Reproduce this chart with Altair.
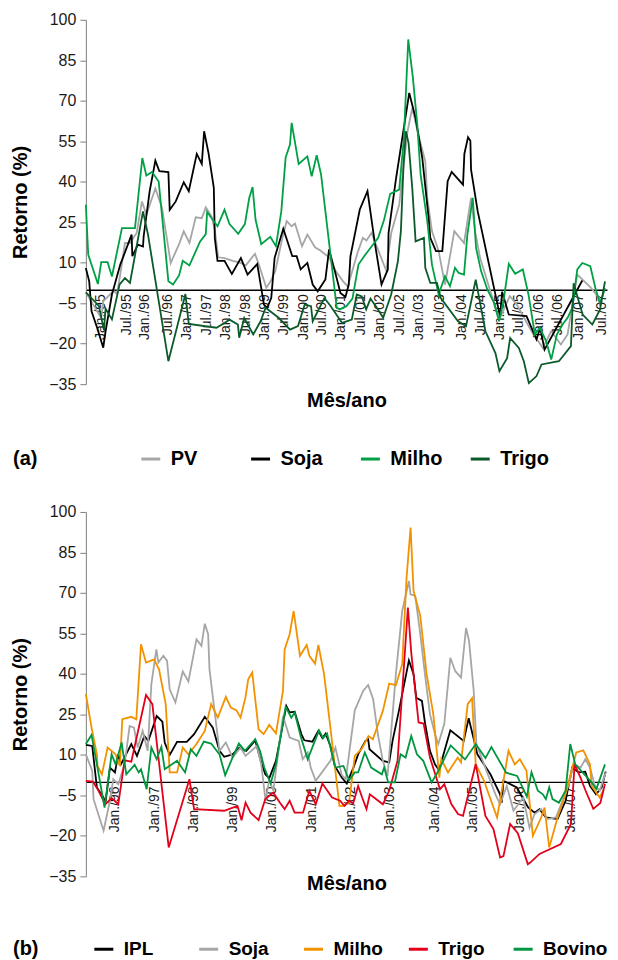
import altair as alt
import pandas as pd

FONT = "Liberation Sans"

# ---------------- Panel (a) ----------------
# (period index, return %)
a_pv = [(0, -1), (2.4, -6), (4.6, -10.5), (5.2, -4.3), (8.3, -0.4), (9.3, -1.6), (10.3, 5.6), (11.7, 17.3),
        (13.2, 17.3), (15.2, 21), (16.8, 32.7), (18.1, 27.8), (20.8, 37.5), (22.8, 30.3), (25.4, 9.9),
        (27.9, 16.9), (29.3, 21.6), (31.0, 17.3), (32.9, 26.8), (34.7, 26.5), (35.9, 30.5), (37.6, 27.2),
        (38.6, 22.2), (39.6, 12), (41.5, 11.7), (44.0, 10.7), (45.9, 10.1), (47.9, 9), (50.6, 13.3),
        (51.8, 9.3), (54.0, 0.7), (55.2, 2.9), (56.7, 6.9), (58.6, 17.9), (60.1, 25.4), (61.6, 23.5),
        (62.6, 24.5), (64.7, 16.1), (66.3, 20.4), (68.6, 15.7), (70.2, 14.5), (72.8, 12), (74.8, 6.9),
        (77.0, 3.1), (78.4, 1.2), (81.3, 13.6), (82.9, 19.2), (84.0, 18.2), (85.5, 21), (89.9, 7.1),
        (91.4, 21), (93.8, 31.5), (96.3, 58.7), (97.7, 67.3), (99.5, 57.5), (101.6, 47.6), (102.2, 34),
        (103.6, 21.7), (105.6, 14.3), (107.5, 1.9), (110.3, 21.7), (113.2, 17.3), (115.3, 34),
        (116.5, 21.7), (118.0, 11.8), (123.7, -11.1), (126.9, -2.4), (129.0, -5.5), (133.4, -15.4),
        (136.8, -21.6), (139.3, -15.4), (142.2, -20.3), (144.2, -16.6), (147.1, 5.6), (151.0, 1),
        (154.5, -4.5)]

a_soja = [(0, 8), (1, 3.1), (1.7, -8), (3.4, -14.2), (5.2, -21.5), (5.9, -15.4), (7.8, -1.8), (10.3, 9.3),
          (13.7, 20.4), (13.9, 12.4), (15.6, 16.7), (17.1, 16), (17.3, 19.8), (19.1, 36.5), (20.8, 47.8),
          (22.0, 43.9), (24.7, 43.6), (25.1, 29.6), (26.9, 32.7), (29.3, 39.8), (30.8, 36.5), (33.2, 50.3),
          (34.7, 46.6), (35.4, 58.7), (36.7, 50.7), (38.3, 37.7), (38.6, 19.1), (39.4, 10.7), (41.5, 10.7),
          (43.7, 5.8), (46.4, 11.7), (48.4, 5.6), (51.3, 9.5), (52.5, 0.6), (53.3, -5.5), (54.3, -6.7),
          (55.5, -3), (56.5, 11.8), (59.1, 22.6), (61.8, 12.4), (63.1, 12.4), (64.3, 7.5), (66.3, 9.9),
          (67.9, 1.9), (69.4, -0.6), (71.7, 3.8), (72.8, 14.9), (74.8, 5.6), (76.2, -1.2), (77.7, -2.7),
          (78.7, 1.9), (79.2, 12.4), (82.0, 29.7), (84.3, 36.5), (86.5, 17.3), (88.5, 1.9), (90.4, 7.5),
          (90.6, 21), (92.8, 40.8), (96.8, 72.9), (98.7, 63.6), (100.7, 48.8), (102.6, 26.6), (103.1, 19.2),
          (104.8, 14.3), (106.7, 14.3), (108.3, 40.2), (109.5, 43.6), (112.9, 38.9), (113.3, 50.3),
          (114.4, 56.5), (115.1, 55.2), (115.3, 44.5), (117.3, 29), (124.0, -10), (124.6, -0.8),
          (126.6, -9.2), (131.9, -9.8), (134.9, -18.4), (136.0, -14.1), (137.3, -22.2), (148.6, 3.4)]

a_milho = [(0, 31.5), (0.7, 13), (3.6, 2.1), (4.6, 10.2), (6.5, 10.2), (7.8, 4.9), (10.8, 22.8), (14.7, 22.8),
           (16.9, 48.8), (18.1, 42.3), (19.8, 43.6), (21.8, 40.1), (24.7, 3.1), (26.1, 1.9), (27.9, 5.3),
           (29.0, 10.7), (31.0, 9), (34.2, 17.9), (35.9, 20.6), (36.3, 28.8), (39.4, 23.5), (41.5, 29.6),
           (43.0, 24.3), (45.6, 20.7), (47.6, 24.3), (48.9, 34), (49.9, 38), (50.8, 25.9), (52.5, 16.9),
           (55.2, 19.6), (56.9, 16.1), (58.5, 29), (59.8, 49), (61.1, 53.8), (61.6, 61.8), (63.7, 46.6),
           (66.3, 49.4), (67.6, 42), (69.1, 49.8), (70.4, 42.7), (75.1, -6.7), (76.0, -7.3), (78.0, -6.1),
           (79.8, -3.3), (81.6, 9.3), (83.3, 12.4), (87.5, 19.2), (89.2, 25.6), (91.1, 35.5), (93.8, 37.1),
           (95.2, 56.2), (96.5, 92.7), (97.9, 78.5), (99.2, 61.2), (100.2, 42.6), (102.2, 25.4), (103.6, 9.3),
           (105.6, -1.8), (107.5, 5), (109.0, 1.3), (110.5, 8.1), (111.6, 6.2), (113.2, 5.6), (114.2, 20.4),
           (115.8, 34), (116.8, 15.5), (118.3, 6.9), (120.2, 0), (122.2, -4.9), (123.7, -11.7), (125.1, -3.6),
           (126.6, 9.6), (128.5, 5.9), (130.8, 7.5), (132.5, -1.8), (134.4, -16.6), (135.9, -14.1),
           (137.8, -19.1), (139.3, -25.9), (141.0, -16.6), (142.7, -12.9), (144.2, -10.4), (145.6, -6.7),
           (147.1, 7.5), (148.6, 9.9), (151.0, 8.7), (152.5, 0.7), (153.9, -5.2), (155.4, 0.5)]

a_trigo = [(0, -1), (3.9, -6), (5.4, -15), (5.9, -7), (7.8, -11), (10.1, 2), (11.7, 4.3), (13.2, 2.5),
           (17.1, 29), (18.6, 20.4), (24.7, -26.5), (29.8, -1.6), (30.8, -12.7), (39.1, -14.1), (41.5, -12.3),
           (43.0, -11.1), (45.5, -12.9), (45.9, -17.8), (47.4, -10.5), (50.1, -16.6), (52.3, -11.7),
           (53.8, -6.7), (57.7, -10.4), (61.1, -14.8), (63.5, -13.5), (65.5, -5.5), (67.4, -6.1),
           (67.9, -11.7), (71.4, -3.1), (73.3, -6.1), (76.7, -12.3), (79.6, -11.1), (81.1, -1.8),
           (82.6, -2.5), (83.9, -7.3), (85.2, -3.3), (86.8, -6.1), (89.0, -10.4), (91.4, -1.8), (93.4, 10.5),
           (94.3, 21.7), (95.1, 46.4), (95.8, 58.7), (96.6, 54.3), (97.7, 37.7), (98.7, 17.9), (101.2, 19.2),
           (101.6, 8.1), (103.1, 2.5), (105.1, 2.5), (106.2, -3), (111.4, -11.7), (113.8, -13.5),
           (116.7, 3.7), (119.6, -15.4), (122.6, -23.5), (123.8, -30.2), (126.1, -25.4), (127.0, -17.9),
           (129.6, -21.6), (131.1, -26.5), (132.6, -34.6), (134.9, -32), (136.4, -27.7), (141.6, -26.5),
           (145.2, -20.9), (146.0, 2.4), (148.7, -9.2), (151.6, -12.9), (153.9, -7.4), (155.4, 3.1)]

a_names = ["PV", "Soja", "Milho", "Trigo"]
a_colors = ["#a6a6a6", "#000000", "#00a046", "#0b5a2a"]
a_series = [a_pv, a_soja, a_milho, a_trigo]

a_tick_pos = [4.4, 12.3, 17.6, 24.3, 30.2, 36.1, 41.9, 47.8, 53.4, 59.2, 65.1, 70.4, 76.2, 82.1, 88.0,
              93.8, 99.7, 105.9, 112.3, 118.2, 123.8, 129.6, 135.5, 141.3, 147.5, 154.3]
a_tick_lab = ["Jan./95", "Jul./95", "Jan./96", "Jul./96", "Jan./97", "Jul./97", "Jan./98", "Jul./98",
              "Jan./99", "Jul./99", "Jan./00", "Jul./00", "Jan./01", "Jul./01", "Jan./02", "Jul./02",
              "Jan./03", "Jul./03", "Jan./04", "Jul./04", "Jan./05", "Jul./05", "Jan./06", "Jul./06",
              "Jan./07", "Jul./07"]

# ---------------- Panel (b) ----------------
b_ipl = [(0, 13.7), (1.9, 13.3), (3.3, -2.1), (5.3, -5.8), (5.8, -8.3), (7.2, 5.3), (8.7, 3.5), (9.7, 10.2),
         (10.5, 6.5), (13.6, 14), (15.3, 9.6), (17.5, 17), (18.7, 15.2), (21.2, 24.4), (22.9, 22.3),
         (23.6, 14.6), (25.1, 10), (27.3, 14.8), (30.2, 14.8), (32.4, 17.7), (35.6, 24.1), (38.0, 20.1),
         (40.0, 11.5), (41.4, 9.3), (43.9, 10.2), (46.0, 12.7), (48.0, 11.5), (50.7, 15.4), (52.2, 8.5),
         (53.7, 2.8), (54.9, 1.4), (56.9, 7.8), (60.0, 28.1), (61.0, 25.7), (62.5, 26), (64.5, 17.7),
         (65.4, 15.4), (67.8, 14.9), (69.6, 18.9), (70.8, 16.2), (71.8, 17.9), (73.2, 13.3), (74.5, 5.9),
         (76.6, 1.6), (78.1, -0.6), (80.1, 5.3), (81.5, 10.2), (83.7, 15.2), (84.5, 15.8), (84.9, 12.1),
         (88.9, 7.8), (90.8, 7.2), (91.8, 15.2), (93.7, 26.3), (96.7, 45), (98.1, 39.9), (98.9, 31.2),
         (100.6, 30), (101.5, 22), (103.0, 11.5), (104.5, 6.5), (105.7, 4.3), (109.1, 19.1), (113.1, 15.2),
         (114.6, 23.6), (117.2, 10.2), (121.1, 2.8), (124.0, -4.6), (124.5, -7.7), (125.0, 0.4),
         (129.0, -2.1), (132.4, -9.5), (134.3, -11.4), (135.8, -10.1), (137.7, -13.2), (141.2, -13.8),
         (143.6, -7), (145.6, 5.3), (147.5, 3.5), (149.5, 3.8), (150.9, -1.5), (152.7, -4.6), (154.4, -2.1),
         (155.6, 3.8)]

b_soja = [(0, 10.2), (1.9, 4.1), (2.3, -6.4), (5.3, -18.1), (7.2, -7), (8.2, 1), (9.7, -0.9), (11.6, 6.5),
          (13.1, 20.7), (14.4, 20.1), (15.5, 12.7), (17.0, 18.9), (18.5, 11.5), (19.6, 36.2), (21.1, 49.1),
          (21.7, 44.2), (23.2, 46.7), (24.3, 44.8), (25.1, 34.3), (26.8, 29.4), (29.0, 40.9), (30.7, 37.2),
          (33.1, 52.8), (34.6, 50.4), (35.6, 58.6), (36.6, 54.7), (37.0, 41.7), (39.0, 21.4), (40.0, 11.5),
          (41.9, 14.6), (43.9, 9), (46.3, 12.7), (47.8, 9.6), (51.2, 13.3), (52.5, 6.5), (53.8, -7),
          (54.9, 1), (56.1, -3.3), (59.0, 24.4), (61.0, 16.4), (63.7, 15.2), (64.9, 8.4), (66.4, 10.9),
          (67.3, 5.3), (68.8, 0.4), (73.2, 7.8), (74.7, 12.7), (76.6, 2.5), (77.8, 1), (80.5, 26.5),
          (83.0, 33.7), (84.5, 35.9), (86.0, 30.6), (87.4, 17.7), (88.9, 7.8), (90.3, 2.2), (92.8, 39.9),
          (94.7, 63.3), (96.7, 74.4), (97.2, 69.5), (98.6, 68.9), (100.1, 54.7), (101.5, 39.9), (103.0, 25.1),
          (104.5, 17.7), (105.5, 14), (107.3, 21.5), (109.1, 46), (110.6, 41), (112.3, 38.6), (113.8, 57),
          (114.7, 52.2), (116.1, 33.7), (116.9, 14), (122.6, -4.6), (124.0, -8.3), (126.0, -1.5),
          (128.0, -10.7), (130.9, -5.8), (132.8, -16.9), (134.3, -12), (136.3, -10.1), (138.2, -13.8),
          (140.7, -13.2), (144.6, -0.9), (146.0, 6.5), (148.1, 5.3), (149.5, 8.4), (150.9, 5.3),
          (152.4, -1.5), (153.8, -3.3), (155.6, 3.5)]

b_milho = [(0, 32.5), (1.7, 20.1), (3.3, 10.2), (3.5, 5.9), (4.8, 2.8), (6.5, 12.7), (8.9, 10.2), (10.2, 5.9),
           (10.9, 23.2), (13.6, 24.1), (15.1, 23.2), (16.5, 51), (18.0, 44.2), (20.4, 45.4), (21.9, 41.7),
           (23.9, 28.8), (25.1, 3.5), (27.3, 3.5), (29.0, 12.7), (30.7, 10.2), (33.1, 14), (35.6, 18.9),
           (37.5, 28.8), (39.5, 23.8), (41.9, 31.5), (43.4, 27.5), (45.1, 26.5), (46.3, 23.8), (47.8, 31.5),
           (48.6, 38), (49.8, 40.5), (51.7, 19.5), (53.2, 17.7), (54.9, 21.1), (56.9, 18), (59.0, 33.7),
           (59.5, 49.1), (61.0, 54.7), (62.2, 63.3), (64.1, 46.7), (66.1, 50.7), (66.9, 46.7), (68.6, 43.8),
           (69.6, 50.7), (71.3, 39.9), (73.2, 20.1), (75.9, -8.9), (77.1, -8.9), (78.8, -7.7), (80.5, 9.6),
           (82.5, 12.1), (84.6, 17), (85.9, 15.8), (88.9, 26.3), (90.8, 36.4), (92.8, 35.8), (94.7, 43.6),
           (96.0, 75.7), (97.2, 94.2), (98.1, 70.7), (100.1, 61.5), (102.0, 39.9), (104.0, 25.1), (105.8, 1.6),
           (106.4, 8.4), (108.4, 3.5), (111.3, 9), (112.3, 7.2), (114.3, 28.8), (115.6, 31), (116.7, 6.5),
           (119.2, 0.4), (120.6, -4.6), (123.1, -13.2), (125.0, 0.4), (126.5, 11.5), (128.4, 6.5),
           (129.9, 8.4), (131.9, 4.1), (133.8, -20), (136.3, -13.2), (137.3, -9.5), (138.7, -24.3),
           (141.2, -13.2), (143.6, -4.6), (145.6, 5.3), (146.8, 10.9), (148.9, 11.7), (150.9, 6.5),
           (151.4, -1.5), (153.8, -5.8), (155.0, -3)]

b_trigo = [(0, 0.4), (2.1, 0.1), (3.8, -3.3), (5.8, -8.3), (7.7, -6), (9.7, -8.3), (11.6, 8), (13.6, 7.5),
           (18.0, 32.2), (19.9, 28.8), (24.8, -24.3), (31.0, 1), (32.4, -10.1), (41.4, -10.7), (45.4, -8.9),
           (46.6, -14.2), (47.8, -7.7), (49.3, -11.4), (51.7, -14.2), (53.7, -6.4), (56.1, -4), (58.1, -7.7),
           (59.5, -10.1), (61.0, -7), (62.5, -11.4), (65.0, -11.4), (66.9, -3.3), (68.8, -8.3), (70.8, -0.6),
           (73.7, -5.8), (76.1, -7), (77.4, -8.9), (78.8, -7), (80.0, -8), (81.5, -1.5), (82.7, -5.8),
           (84.0, -10.1), (85.0, -4.6), (88.9, -8.3), (90.8, -3.3), (93.3, 7.8), (96.4, 64.6), (97.4, 47.9),
           (99.6, 22), (101.1, 21.6), (103.0, 9), (106.0, -2.7), (107.3, -0.9), (109.4, -8.2), (111.4, -11.9),
           (112.9, -12.6), (116.7, 6.6), (119.6, -12.6), (122.0, -17.5), (124.0, -28), (125.0, -27.5),
           (127.0, -15.6), (129.3, -19), (132.3, -30.5), (133.1, -29.8), (135.8, -26.7), (142.2, -23),
           (145.2, -15.6), (146.3, 6.6), (148.1, 1.5), (149.6, -3.3), (151.9, -10), (154.0, -7.8),
           (155.4, -0.7)]

b_bovino = [(0, 14), (1.7, 17.4), (3.3, 6.5), (5.6, -9.5), (7.7, 10.2), (8.9, 6.5), (10.7, 14.6), (12.1, 2.8),
            (14.6, 6.3), (15.8, 3.5), (16.5, 4.7), (18.2, -2.7), (19.6, 12.7), (21.2, 8.4), (22.6, 13),
            (23.6, 4.7), (27.3, 7.8), (29.7, 3.5), (31.4, 12.1), (33.1, 9.6), (35.3, 14.9), (37.5, 14.2),
            (40.0, 10.2), (41.7, 2.5), (43.9, 9), (45.8, 14.2), (47.6, 11.5), (50.7, 15.8), (52.2, 11.2),
            (53.4, 5.3), (55.3, -0.6), (56.9, 6.5), (59.8, 27.8), (61.5, 23.8), (62.5, 25.7), (64.4, 16.4),
            (66.4, 8.4), (69.8, 19.1), (71.0, 16.2), (72.2, 17.9), (74.7, 5.3), (77.1, 5.9), (78.8, 0.6),
            (80.5, 3.5), (81.5, 3.5), (83.5, 10.9), (85.4, 5.3), (88.6, 2.8), (89.3, 5.3), (90.5, -0.2),
            (92.5, -0.2), (94.2, 10.2), (95.7, 9), (97.4, 17), (99.1, 10.2), (101.0, 7.8), (103.5, -0.2),
            (105.5, 4), (109.2, 13.5), (113.5, 8.3), (116.7, 14), (119.6, 8.8), (121.4, 12.9), (125.8, 3.4),
            (129.1, 2.2), (132.0, -5.5), (133.4, 3.6), (135.3, -3.3), (136.8, -4.6), (137.7, -6.4),
            (138.7, -2), (139.7, -6.4), (141.6, -7.7), (143.6, -3.3), (145.0, 14), (146.5, 6.5),
            (151.4, -0.2), (152.8, -2.7), (155.4, 6.5)]

b_names = ["IPL", "Soja", "Milho", "Trigo", "Bovino"]
b_colors = ["#000000", "#a6a6a6", "#f39200", "#e3001b", "#00963f"]
b_series = [b_ipl, b_soja, b_milho, b_trigo, b_bovino]

b_tick_pos = [8.7, 20.4, 32.2, 43.9, 55.6, 67.4, 79.1, 90.8, 104.4, 115.7, 129.9, 145.1]
b_tick_lab = ["Jan./96", "Jan./97", "Jan./98", "Jan./99", "Jan./00", "Jan./01", "Jan./02", "Jan./03",
              "Jan./04", "Jan./05", "Jan./06", "Jan./07"]

y_ticks = [-35, -20, -5, 10, 25, 40, 55, 70, 85, 100]

W, H = 522, 365
X_MAX = 156
Y_MIN, Y_MAX = -35, 100
ZERO_OFFSET = -(H * (0 - Y_MIN) / (Y_MAX - Y_MIN))


def to_frame(names, series):
    rows = []
    for name, pts in zip(names, series):
        for t, v in pts:
            rows.append({"t": t, "v": v, "serie": name})
    return pd.DataFrame(rows)


def label_expr(pos, lab):
    arr_l = "[" + ",".join("'%s'" % s for s in lab) + "]"
    arr_p = "[" + ",".join(str(p) for p in pos) + "]"
    return "%s[indexof(%s, datum.value)]" % (arr_l, arr_p)


def panel(names, colors, series, tick_pos, tick_lab, tag, title_y, tpad, cpad, lfs, leg_y):
    df = to_frame(names, series)
    color = alt.Color(
        "serie:N",
        scale=alt.Scale(domain=names, range=colors),
        legend=alt.Legend(
            title=tag, titleOrient="left", titleFontSize=20, titleFontWeight="bold",
            titleColor="black", titleFont=FONT, titlePadding=tpad,
            orient="none", legendX=-73, legendY=leg_y, direction="horizontal",
            columns=len(names), gridAlign="all", columnPadding=cpad,
            symbolType="stroke", symbolStrokeWidth=3, symbolSize=361,
            labelFontSize=lfs, labelFontWeight="bold", labelFont=FONT,
            labelColor="black", labelOffset=9,
        ),
    )
    xax = alt.Axis(
        values=tick_pos, labelExpr=label_expr(tick_pos, tick_lab), labelAngle=270,
        offset=ZERO_OFFSET, domainColor="black", domainWidth=1.5, ticks=False,
        labelFontSize=14, labelColor="#1a1a1a", labelFont=FONT, labelPadding=4,
        labelOverlap=False, labelFlush=False, grid=False,
        title="Mês/ano", titleFontSize=20, titleFontWeight="bold", titleColor="black",
        titleFont=FONT, titleY=title_y, titleBaseline="alphabetic",
    )
    yax = alt.Axis(
        values=y_ticks, grid=False, domainColor="#808080", tickColor="#808080", tickSize=6,
        labelFontSize=16, labelColor="#1a1a1a", labelFont=FONT, labelPadding=4,
        title="Retorno (%)", titleFontSize=20, titleFontWeight="bold", titleColor="black",
        titleFont=FONT, titlePadding=18,
    )
    xs = alt.Scale(domain=[0, X_MAX], nice=False, zero=False)
    ys = alt.Scale(domain=[Y_MIN, Y_MAX], nice=False)
    base = alt.Chart(df)
    layers = []
    for name in names:
        layers.append(
            base.transform_filter(alt.datum.serie == name)
            .mark_line(strokeWidth=1.8)
            .encode(
                x=alt.X("t:Q", scale=xs, axis=xax),
                y=alt.Y("v:Q", scale=ys, axis=yax),
                color=color,
                order=alt.Order("t:Q"),
            )
        )
    return alt.layer(*layers).properties(width=W, height=H)


chart_a = panel(a_names, a_colors, a_series, a_tick_pos, a_tick_lab, "(a)", 117, 102, 21, 20, 429)
chart_b = panel(b_names, b_colors, b_series, b_tick_pos, b_tick_lab, "(b)", 108, 54, 4, 19, 427)

chart = (
    alt.vconcat(chart_a, chart_b, spacing=35)
    .resolve_scale(color="independent")
    .properties(padding={"left": 2, "top": 3, "right": 0, "bottom": 0}, background="white")
    .configure(font=FONT)
    .configure_view(stroke=None)
)

chart.save("out.html", embed_options={"renderer": "svg", "actions": False})
